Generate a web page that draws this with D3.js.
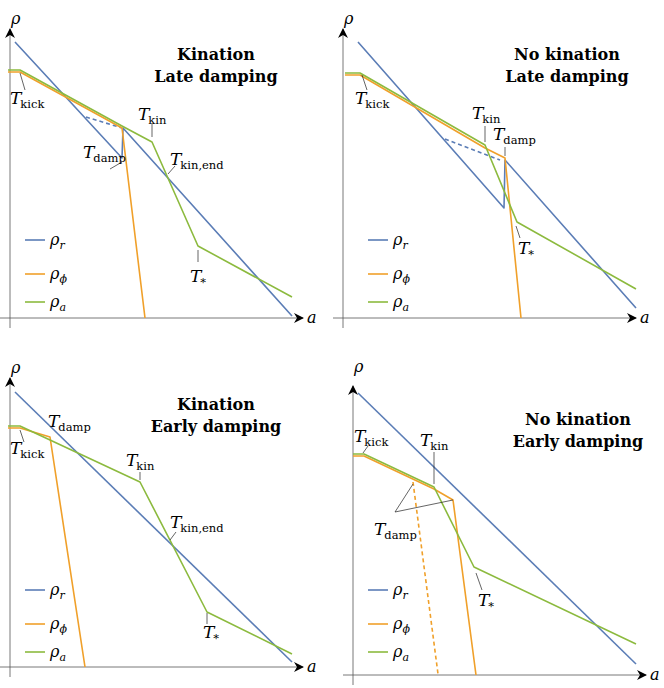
<!DOCTYPE html><html><head><meta charset="utf-8">
<script src="https://cdn.jsdelivr.net/npm/d3@7"></script>
<style>body{margin:0;background:#fff}</style></head><body>
<svg id="c" width="664" height="688"></svg>
<script>
// panel origins (where axes cross) in page pixels
const origins = [[10,318],[343,318],[10,667],[353,675]];
const titles = [["Kination","Late damping"],["No kination","Late damping"],["Kination","Early damping"],["No kination","Early damping"]];
const titlePos = [[206,258],[224,258],[206,257],[225,250]];
const rhoLabelY = [294,294,294,303];
// series in panel units (log a, log rho)
const rhoR = [
 [[5,276],[112,160],[113,190],[282,2]],
 [[15,276],[161,110],[162,158],[293,10]],
 [[5,275],[282,5]],
 [[5,282],[283,11]]];
const rhoRDash = [[[76,201],[112,190]],[[102,179],[157,158]],null,null];
const rhoPhi = [
 [[-2,246],[10,246],[112,190],[135,0]],
 [[2,243],[17,243],[142,170],[162,160],[178,0]],
 [[-2,239],[10,239],[40,230],[75,0]],
 [[0,219],[11,219],[81,186],[100,175],[123,0]]];
const rhoPhiDash = [null,null,null,[[60,193],[85,1]]];
const rhoA = [
 [[-2,248],[10,248],[112,192],[142,176],[188,72],[282,21]],
 [[2,245],[17,245],[142,173],[174,96],[293,29]],
 [[-2,241],[10,241],[130,185],[197,55],[282,13]],
 [[0,221],[11,221],[81,188],[121,108],[283,31]]];
// labels: [main, subscript, x, y, leader segments]
const labels = [
 [["T","kick",0,214,[[[10,245],[15,228]]]],["T","kin",128,198,[[[142,195],[142,181]]]],["T","kin,end",160,153,[[[158,144],[165,152]]]],["T","damp",73,160,[[[100,149],[112,156]]]],["T","*",180,36,[[[188,68],[188,56]]]]],
 [["T","kick",12,214,[[[19,243],[24,228]]]],["T","kin",129,199,[[[142,192],[142,176]]]],["T","damp",150,178,[[[162,171],[162,162]]]],["T","*",175,64,[[[173,92],[177,80]]]]],
 [["T","damp",38,240,[]],["T","kick",0,213,[[[10,237],[14,225]]]],["T","kin",116,201,[[[130,195],[130,187]]]],["T","kin,end",160,139,[[[160,127],[166,135]]]],["T","*",193,29,[[[197,54],[197,43]]]]],
 [["T","kick",1,233,[[[10,222],[15,229]]]],["T","kin",67,229,[[[81,223],[81,191]]]],["T","damp",21,140,[[[42,163],[60,191]],[[42,163],[100,175]]]],["T","*",125,69,[[[123,102],[129,85]]]]]];
const legendX = [15,25,15,15];
const legendY = [[78,44,16],[78,44,16],[77,43,15],[85,51,23]];
const legendNames = [["ρ","r"],["ρ","ϕ"],["ρ","a"]];
const colors = {r:"#5b7db6", phi:"#f0a02a", a:"#8cba3e"};
const serif = "DejaVu Serif, serif";

const svg = d3.select("#c");
svg.append("defs").append("marker").attr("id","arr").attr("viewBox","0 0 10 10").attr("refX",9).attr("refY",5)
  .attr("markerWidth",10).attr("markerHeight",10).attr("orient","auto-start-reverse").attr("markerUnits","userSpaceOnUse")
  .append("path").attr("d","M0,0 L10,5 L0,10 L3,5 Z").attr("fill","#000");

origins.forEach((o,i)=>{
  const x = d3.scaleLinear().domain([0,300]).range([o[0],o[0]+300]);
  const y = d3.scaleLinear().domain([0,300]).range([o[1],o[1]-300]);
  const g = svg.append("g");
  const line = d3.line().x(d=>x(d[0])).y(d=>y(d[1]));
  g.append("line").attr("x1",x(-10)).attr("x2",x(293)).attr("y1",y(0)).attr("y2",y(0)).attr("stroke","#555").attr("stroke-width",0.8).attr("marker-end","url(#arr)");
  g.append("line").attr("x1",x(0)).attr("x2",x(0)).attr("y1",y(-10)).attr("y2",y(289)).attr("stroke","#555").attr("stroke-width",0.8).attr("marker-end","url(#arr)");
  g.append("text").attr("x",x(1)).attr("y",y(rhoLabelY[i])).attr("font-family",serif).attr("font-style","italic").attr("font-size",16).text("ρ");
  g.append("text").attr("x",x(297)).attr("y",y(-5)).attr("font-family",serif).attr("font-style","italic").attr("font-size",16).text("a");
  const draw=(d,c,dash)=>{ if(!d) return; g.append("path").attr("d",line(d)).attr("fill","none").attr("stroke",c).attr("stroke-width",1.6).attr("stroke-linejoin","round").attr("stroke-dasharray",dash?"4,3":null); };
  draw(rhoR[i],colors.r); draw(rhoRDash[i],colors.r,true);
  draw(rhoPhi[i],colors.phi); draw(rhoPhiDash[i],colors.phi,true);
  draw(rhoA[i],colors.a);
  labels[i].forEach(l=>{
    l[4].forEach(s=>g.append("line").attr("x1",x(s[0][0])).attr("y1",y(s[0][1])).attr("x2",x(s[1][0])).attr("y2",y(s[1][1])).attr("stroke","#222").attr("stroke-width",0.7));
    const t=g.append("text").attr("x",x(l[2])).attr("y",y(l[3])).attr("font-family",serif).attr("font-size",17);
    t.append("tspan").attr("font-style","italic").text(l[0]);
    t.append("tspan").attr("dy",4).attr("font-size",11.5).attr("dx",-1).text(l[1]);
  });
  titles[i].forEach((s,k)=>g.append("text").attr("x",x(titlePos[i][0])).attr("y",y(titlePos[i][1])+k*22).attr("text-anchor","middle")
    .attr("font-family",serif).attr("font-weight","bold").attr("font-size",16).text(s));
  const lc=[colors.r,colors.phi,colors.a];
  legendNames.forEach((n,k)=>{
    const yy=y(legendY[i][k]);
    g.append("line").attr("x1",x(legendX[i])).attr("x2",x(legendX[i]+20)).attr("y1",yy).attr("y2",yy).attr("stroke",lc[k]).attr("stroke-width",1.6);
    const t=g.append("text").attr("x",x(legendX[i]+25)).attr("y",yy+5).attr("font-family",serif).attr("font-style","italic").attr("font-size",16);
    t.append("tspan").text(n[0]); t.append("tspan").attr("dy",4).attr("font-size",11).text(n[1]);
  });
});
</script></body></html>
